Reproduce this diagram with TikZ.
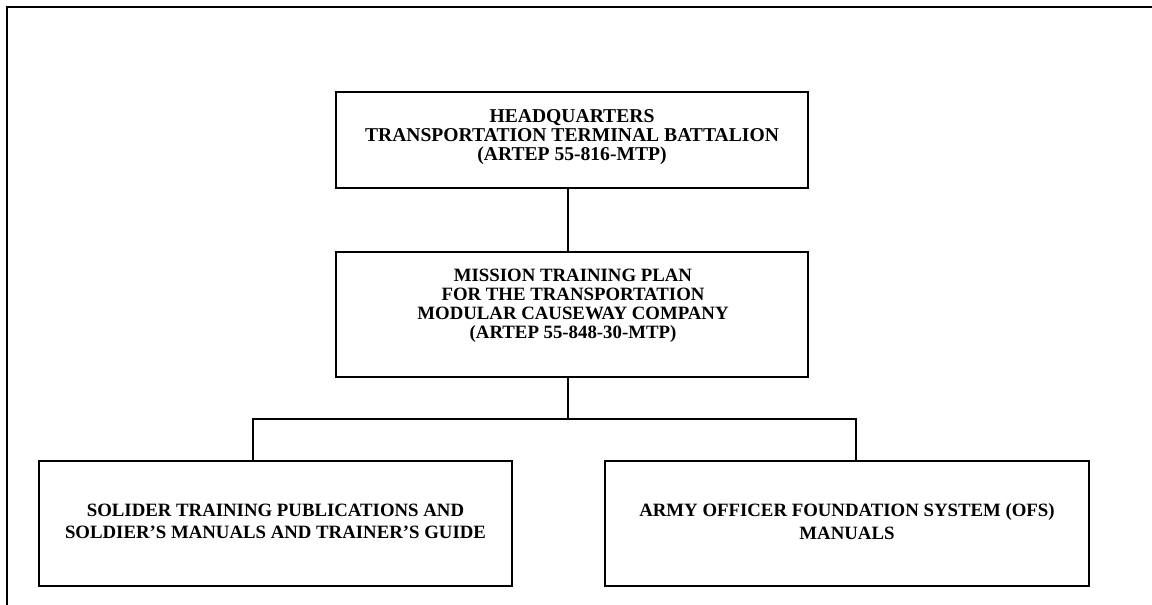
\documentclass[tikz,border=0pt]{standalone}
\usepackage{fontspec}
\setmainfont{Liberation Serif}
\begin{document}
\begin{tikzpicture}[x=1pt,y=-1pt,
  box/.style={draw,line width=1.6pt,inner sep=0pt},
  lbl/.style={inner sep=0pt,align=center,font=\fontsize{18.8}{18.9}\selectfont\bfseries},
  toplbl/.style={lbl,font=\fontsize{19.6}{18.9}\selectfont\bfseries},
  blbl/.style={lbl,font=\fontsize{18.8}{22.5}\selectfont\bfseries},
  link/.style={line width=1.3pt}]
\useasboundingbox (0,0) rectangle (1152,605);
\draw[line width=2.2pt] (7,605) -- (7,7) -- (1152,7);
\node[box,minimum width=472pt,minimum height=96pt] (hq) at (572,140) {};
\node[toplbl] (hqt) at (572,137)
  {HEADQUARTERS\\TRANSPORTATION TERMINAL BATTALION\\(ARTEP 55-816-MTP)};
\node[box,minimum width=472pt,minimum height=125pt] (mtp) at (572,314.5) {};
\node[lbl] (mtpt) at (573,306)
  {MISSION TRAINING PLAN\\FOR THE TRANSPORTATION\\MODULAR CAUSEWAY COMPANY\\(ARTEP 55-848-30-MTP)};
\node[box,minimum width=473pt,minimum height=125pt] (stp) at (275.5,523.5) {};
\node[blbl] (stpt) at (275.5,521.5)
  {SOLIDER TRAINING PUBLICATIONS AND\\SOLDIER'S MANUALS AND TRAINER'S GUIDE};
\node[box,minimum width=484pt,minimum height=125pt] (ofs) at (847,523.5) {};
\node[blbl] (ofst) at (847,521.5)
  {ARMY OFFICER FOUNDATION SYSTEM (OFS)\\MANUALS};
\coordinate (j) at (568,419);
\coordinate (jl) at (253,419);
\coordinate (jr) at (856,419);
\draw[link] (hq.south -| j) -- (mtp.north -| j);
\draw[link] (mtp.south -| j) -- (j);
\draw[link] (jl |- stp.north) -- (jl) -- (jr) -- (jr |- ofs.north);
\end{tikzpicture}
\end{document}
